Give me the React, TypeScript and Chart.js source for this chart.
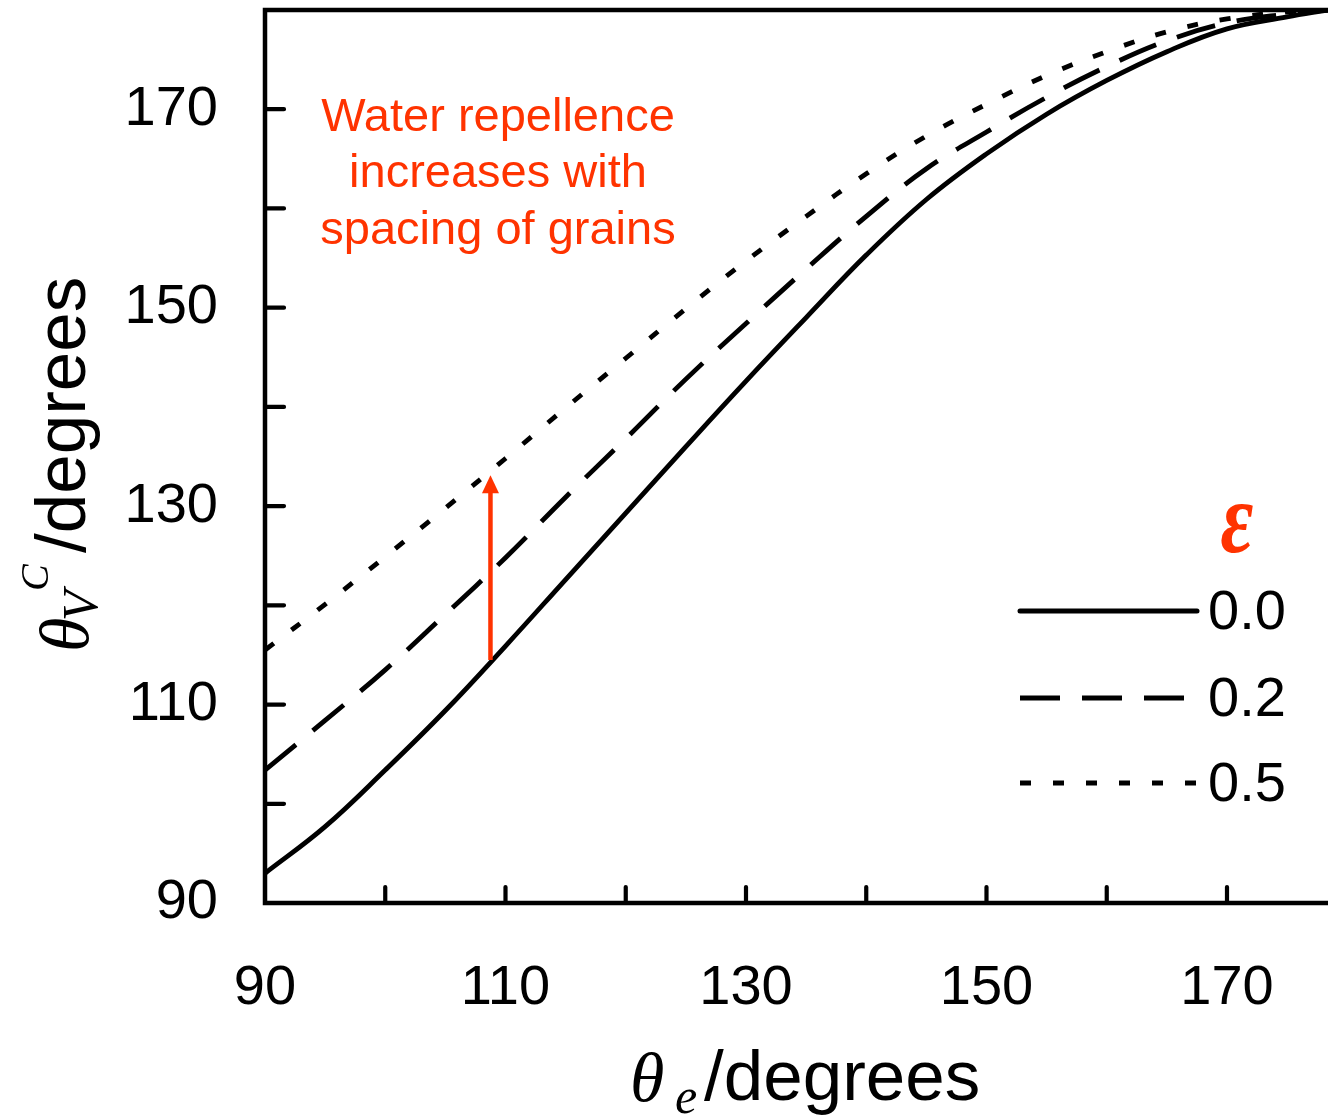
import React, { useEffect, useRef } from 'react';
import { Chart, registerables } from 'chart.js';

Chart.register(...registerables);

// θe (degrees)
const thetaE = [90, 95, 100, 105, 110, 115, 120, 125, 130, 135, 140, 145, 150, 155, 160, 165, 170, 175, 178.4];
// θV^C (degrees) for each ε
const eps00 = [93.0, 97.7, 103.4, 109.4, 115.9, 122.6, 129.3, 136.0, 142.6, 149.0, 155.3, 160.9, 165.5, 169.5, 172.9, 175.8, 178.1, 179.3, 180];
const eps02 = [103.4, 108.4, 113.5, 119.1, 124.8, 130.9, 136.8, 142.8, 148.4, 153.9, 159.2, 164.0, 167.7, 171.2, 174.3, 176.9, 178.7, 179.6, 180];
const eps05 = [115.5, 120.1, 124.9, 129.8, 134.8, 139.9, 144.9, 149.9, 154.7, 159.2, 163.5, 167.3, 170.5, 173.4, 175.8, 177.8, 179.1, 179.8, 180];
const seriesLabels = ['0.0', '0.2', '0.5'];
const xTicks = [90, 100, 110, 120, 130, 140, 150, 160, 170];
const yTicks = [90, 100, 110, 120, 130, 140, 150, 160, 170, 180];
const xLabelled = [90, 110, 130, 150, 170];
const yLabelled = [90, 110, 130, 150, 170];
const arrowX = 108.75;
const arrowFrom = 114.5;
const arrowTo = 133.1;
const noteLines = ['Water repellence', 'increases with', 'spacing of grains'];

const SANS = "'Liberation Sans', Arial, sans-serif";
const SERIF = "'Liberation Serif', 'Times New Roman', serif";
const RED = '#ff3300';

const decorPlugin = {
  id: 'decor',
  afterDraw(chart: any) {
    const ctx = chart.ctx as CanvasRenderingContext2D;
    const { left, right, top, bottom } = chart.chartArea;
    const xs = chart.scales.x;
    const ys = chart.scales.y;
    ctx.save();
    // frame
    ctx.strokeStyle = '#000';
    ctx.lineWidth = 4.5;
    ctx.lineCap = 'square';
    ctx.beginPath();
    ctx.moveTo(right + 5, top);
    ctx.lineTo(left, top);
    ctx.lineTo(left, bottom);
    ctx.lineTo(right + 5, bottom);
    ctx.stroke();
    // inward ticks
    ctx.lineCap = 'round';
    ctx.lineWidth = 4.2;
    ctx.beginPath();
    yTicks.forEach((v) => {
      if (v === 90 || v === 180) return;
      const p = ys.getPixelForValue(v);
      ctx.moveTo(left, p);
      ctx.lineTo(left + 19, p);
    });
    xTicks.forEach((v) => {
      if (v === 90) return;
      const p = xs.getPixelForValue(v);
      ctx.moveTo(p, bottom);
      ctx.lineTo(p, bottom - 16);
    });
    ctx.stroke();

    // arrow
    const ax = xs.getPixelForValue(arrowX);
    const ay0 = ys.getPixelForValue(arrowFrom);
    const ay1 = ys.getPixelForValue(arrowTo);
    ctx.strokeStyle = RED;
    ctx.fillStyle = RED;
    ctx.lineCap = 'butt';
    ctx.lineWidth = 4.5;
    ctx.beginPath();
    ctx.moveTo(ax, ay0);
    ctx.lineTo(ax, ay1 + 16);
    ctx.stroke();
    ctx.beginPath();
    ctx.moveTo(ax, ay1);
    ctx.lineTo(ax - 8.5, ay1 + 18);
    ctx.lineTo(ax + 8.5, ay1 + 18);
    ctx.closePath();
    ctx.fill();

    // annotation
    ctx.font = `47px ${SANS}`;
    ctx.textAlign = 'center';
    ctx.textBaseline = 'middle';
    noteLines.forEach((t, i) => ctx.fillText(t, 498, 118 + i * 56.5));

    // legend
    const legendYs = [611, 698, 783];
    chart.data.datasets.forEach((ds: any, i: number) => {
      ctx.strokeStyle = '#000';
      ctx.lineWidth = 5;
      ctx.lineCap = i === 0 ? 'round' : 'butt';
      ctx.setLineDash(ds.borderDash || []);
      ctx.beginPath();
      ctx.moveTo(1020, legendYs[i]);
      ctx.lineTo(i === 1 ? 1184 : 1197, legendYs[i]);
      ctx.stroke();
      ctx.setLineDash([]);
      ctx.fillStyle = '#000';
      ctx.font = `56px ${SANS}`;
      ctx.textAlign = 'left';
      ctx.textBaseline = 'middle';
      ctx.fillText(ds.label, 1208, legendYs[i] + 3);
    });
    // epsilon header
    ctx.save();
    ctx.fillStyle = RED;
    ctx.translate(1237, 552);
    ctx.scale(1, 1.28);
    ctx.font = `italic bold 80px ${SERIF}`;
    ctx.textAlign = 'center';
    ctx.textBaseline = 'alphabetic';
    ctx.fillText('ε', 0, 0);
    ctx.restore();

    // x title
    ctx.fillStyle = '#000';
    ctx.textAlign = 'left';
    ctx.textBaseline = 'alphabetic';
    ctx.font = `italic 70px ${SERIF}`;
    ctx.fillText('θ', 630, 1101);
    ctx.font = `italic 50px ${SERIF}`;
    ctx.fillText('e', 675, 1113);
    ctx.font = `71px ${SANS}`;
    ctx.fillText('/degrees', 704, 1100);

    // y title (rotated)
    ctx.save();
    ctx.translate(85, 652);
    ctx.rotate(-Math.PI / 2);
    ctx.font = `italic 70px ${SERIF}`;
    ctx.fillText('θ', 0, 3);
    ctx.font = `italic 50px ${SERIF}`;
    ctx.fillText('V', 31, 12);
    ctx.font = `italic 40px ${SERIF}`;
    ctx.fillText('C', 61, -37);
    ctx.font = `71px ${SANS}`;
    ctx.fillText('/degrees', 99, 0);
    ctx.restore();

    ctx.restore();
  },
};

export default function App() {
  const ref = useRef<HTMLCanvasElement>(null);
  useEffect(() => {
    if (!ref.current) return;
    const mk = (ys: number[]) => thetaE.map((x, i) => ({ x, y: ys[i] }));
    const common = { borderColor: '#000', borderWidth: 4.8, pointRadius: 0, tension: 0.4, fill: false };
    const chart = new Chart(ref.current, {
      type: 'line',
      data: {
        datasets: [
          { ...common, label: seriesLabels[0], data: mk(eps00), borderDash: [] },
          { ...common, label: seriesLabels[1], data: mk(eps02), borderDash: [40, 22] },
          { ...common, label: seriesLabels[2], data: mk(eps05), borderDash: [11, 22] },
        ],
      },
      options: {
        animation: false,
        responsive: false,
        maintainAspectRatio: false,
        layout: { padding: { top: 10, left: 0, right: 0, bottom: 0 } },
        plugins: { legend: { display: false }, tooltip: { enabled: false } },
        scales: {
          x: {
            type: 'linear',
            min: 90,
            max: 178.4,
            grid: { display: false, drawTicks: false },
            border: { display: false },
            afterBuildTicks: (s: any) => { s.ticks = xTicks.map((v) => ({ value: v })); },
            afterFit: (s: any) => { s.height = 213; s.paddingLeft = 0; s.paddingRight = 0; s.paddingTop = 0; s.paddingBottom = 0; },
            ticks: {
              padding: 52,
              autoSkip: false,
              maxRotation: 0,
              color: '#000',
              font: { family: SANS, size: 56 },
              callback: (v: any) => (xLabelled.includes(Number(v)) ? String(v) : ''),
            },
          },
          y: {
            type: 'linear',
            min: 90,
            max: 180,
            grid: { display: false, drawTicks: false },
            border: { display: false },
            afterBuildTicks: (s: any) => { s.ticks = yTicks.map((v) => ({ value: v })); },
            afterFit: (s: any) => { s.width = 265; s.paddingTop = 0; s.paddingBottom = 0; s.paddingLeft = 0; s.paddingRight = 0; },
            ticks: {
              padding: 47,
              autoSkip: false,
              color: '#000',
              font: { family: SANS, size: 56 },
              callback: (v: any) => (yLabelled.includes(Number(v)) ? String(v) : ''),
            },
          },
        },
      },
      plugins: [decorPlugin],
    } as any);
    return () => chart.destroy();
  }, []);
  return (
    <div style={{ position: 'absolute', left: 0, top: 0, width: 1328, height: 1116, background: '#fff' }}>
      <canvas ref={ref} width={1328} height={1116} style={{ display: 'block' }} />
    </div>
  );
}
